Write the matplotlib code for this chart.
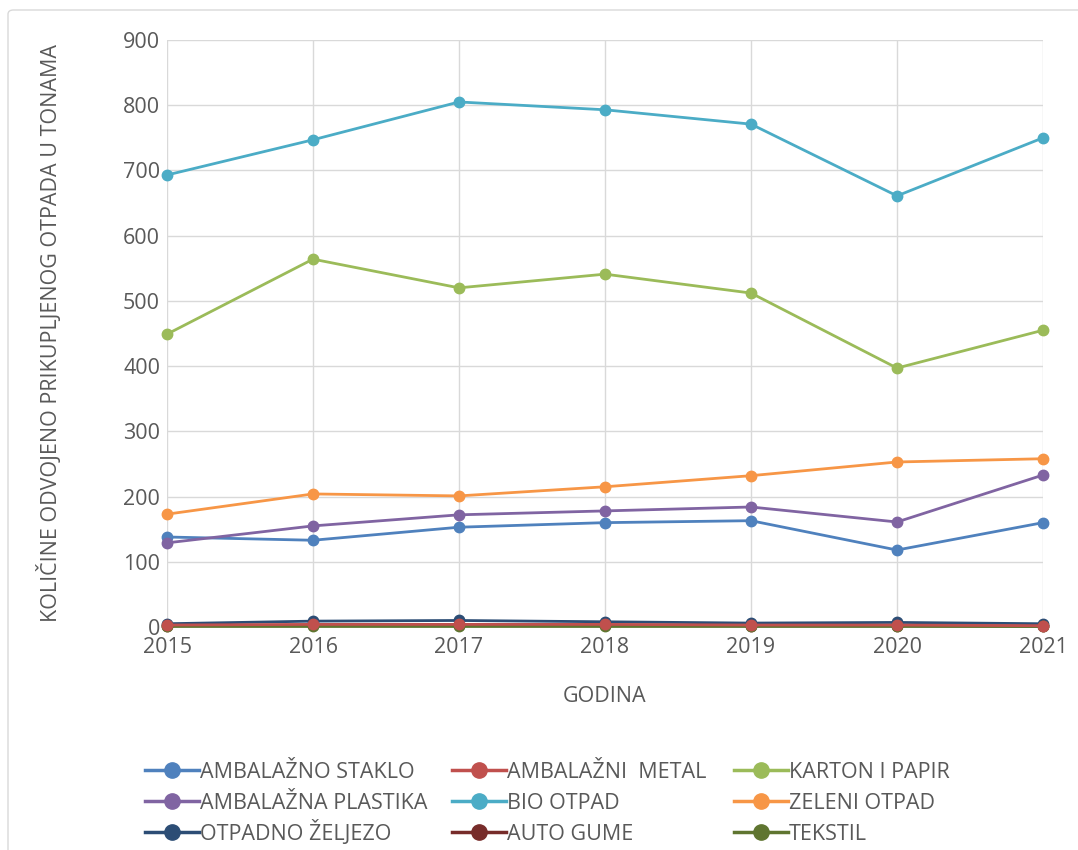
import numpy as np
import matplotlib.pyplot as plt
from matplotlib.patches import FancyBboxPatch
from matplotlib.lines import Line2D

plt.rcParams['font.family'] = ['Open Sans', 'DejaVu Sans']

years = [2015, 2016, 2017, 2018, 2019, 2020, 2021]
staklo = [138, 133, 153, 160, 163, 118, 160]
metal = [3, 4, 4, 4, 3, 3, 2]
karton = [449, 564, 520, 541, 512, 397, 455]
plastika = [129, 155, 172, 178, 184, 161, 233]
bio = [693, 747, 805, 793, 771, 661, 750]
zeleni = [173, 204, 201, 215, 232, 253, 258]
zeljezo = [5, 9, 10, 8, 6, 7, 5]
gume = [2, 3, 3, 3, 2, 2, 1]
tekstil = [1, 1, 1, 1, 1, 1, 1]

series = [
    ('AMBALAŽNO STAKLO', staklo, '#4F81BD'),
    ('AMBALAŽNI  METAL', metal, '#C0504D'),
    ('KARTON I PAPIR', karton, '#9BBB59'),
    ('AMBALAŽNA PLASTIKA', plastika, '#8064A2'),
    ('BIO OTPAD', bio, '#4BACC6'),
    ('ZELENI OTPAD', zeleni, '#F79646'),
    ('OTPADNO ŽELJEZO', zeljezo, '#2C4D75'),
    ('AUTO GUME', gume, '#772C2A'),
    ('TEKSTIL', tekstil, '#5F7530'),
]
TxtCol = '#595959'
fs = 15.5
W, H = 1078, 850

fig = plt.figure(figsize=(W/100, H/100), dpi=100)
fig.patches.append(FancyBboxPatch((8/W, -0.05), 1.05, 1.05 - 10/H, boxstyle='round,pad=0,rounding_size=0.005',
                                  transform=fig.transFigure, fill=False, edgecolor='#D9D9D9', linewidth=1))
ax = fig.add_axes([167/W, 1 - 627/H, (1043 - 167)/W, (627 - 40)/H])

for name, vals, col in series:
    # the metal line sits on top of the other small ones in the original
    z = 4 if name.startswith('AMBALAŽNI') else 3
    ax.plot(years, vals, color=col, linewidth=2, marker='o', markersize=7.5, label=name, zorder=z, clip_on=False)

ax.set_xlim(2015, 2021)
ax.set_ylim(0, 900)
ax.set_yticks(range(0, 901, 100))
ax.set_xticks(years)
ax.grid(True, color='#D9D9D9', linewidth=1)
ax.set_axisbelow(True)
for s in ax.spines.values():
    s.set_visible(False)
ax.tick_params(length=0, labelsize=fs, colors=TxtCol)
ax.tick_params(axis='y', pad=5)
ax.tick_params(axis='x', pad=7)
ax.set_xlabel('GODINA', fontsize=fs, color=TxtCol, labelpad=20)
ax.set_ylabel('KOLIČINE ODVOJENO PRIKUPLJENOG OTPADA U TONAMA', fontsize=fs, color=TxtCol, labelpad=44)

# legend grid: one small legend per entry, anchored at the bottom so baselines line up
colx = [145, 452, 734]
rowy = [771, 802, 833]
for i, (name, vals, col) in enumerate(series):
    r, c = divmod(i, 3)
    h = Line2D([], [], color=col, linewidth=2.5, marker='o', markersize=11)
    fig.legend([h], [name], loc='lower left', bbox_to_anchor=(colx[c]/W, 1 - (rowy[r] + 12)/H),
               frameon=False, fontsize=fs, labelcolor=TxtCol, handlelength=2.5, handletextpad=0.05,
               borderpad=0, borderaxespad=0)

plt.savefig('out.png', dpi=100)
